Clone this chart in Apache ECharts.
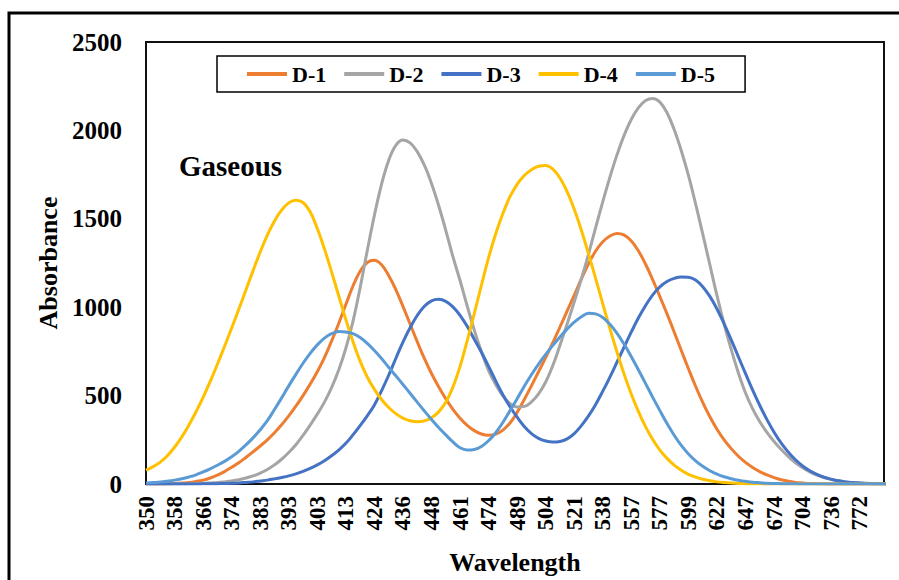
<!DOCTYPE html>
<html>
<head>
<meta charset="utf-8">
<script src="https://cdn.jsdelivr.net/npm/echarts/dist/echarts.min.js"></script>
<style>
  html, body { margin: 0; padding: 0; background: #fff; }
  #chart { width: 899px; height: 580px; }
</style>
</head>
<body>
<div id="chart"></div>
<script>
// Tick labels of the wavelength axis (evenly spaced positions 0..25)
const wavelengthLabels = ['350','358','366','374','383','393','403','413','424','436','448','461','474',
  '489','504','521','538','557','577','599','622','647','674','704','736','772'];

// Sample positions along the axis (in tick-label steps)
const samplePos = [
  0,0.25,0.5,0.75, 1,1.25,1.5,1.75, 2,2.25,2.5,2.75, 3,3.25,3.5,3.75, 4,4.25,4.5,4.75,
  5,5.25,5.5,5.75, 6,6.25,6.5,6.75, 7,7.25,7.5,7.75, 8,8.25,8.5,8.75, 9,9.25,9.5,9.75,
  10,10.25,10.5,10.75, 11,11.25,11.5,11.75, 12,12.25,12.5,12.75, 13,13.25,13.5,13.75,
  14,14.25,14.5,14.75, 15,15.25,15.5,15.75, 16,16.25,16.5,16.75, 17,17.25,17.5,17.75,
  18,18.25,18.5,18.75, 19,19.25,19.5,19.75, 20,20.25,20.5,20.75, 21,21.25,21.5,21.75,
  22,22.25,22.5,22.75, 23,23.25,23.5,23.75, 24,24.25,24.5,24.75, 25,25.25,25.5,25.75, 26];

const seriesNames = ['D-1','D-2','D-3','D-4','D-5'];

const d1 = [
  0,0,1,2, 3,5,8,14, 22,34,50,70, 95,120,150,182, 215,250,290,335,
  385,440,500,565, 635,715,808,908, 1015,1120,1203,1253, 1265,1240,1180,1100, 1005,905,805,710,
  625,550,482,422, 372,332,302,283, 276,282,305,345, 405,478,555,635,
  715,800,888,978, 1068,1160,1245,1318, 1370,1403,1417,1408, 1375,1318,1243,1155,
  1060,962,860,755, 652,553,462,380, 310,250,200,157, 122,93,70,51,
  36,24,15,9, 6,3,2,1, 0,0,0,0, 0,0,0,0, 0];

const d2 = [
  0,0,0,0, 1,1,2,3, 4,6,8,12, 17,24,34,46, 62,82,108,140,
  178,222,275,333, 395,463,545,645, 768,920,1110,1320, 1520,1695,1830,1915, 1945,1929,1880,1803,
  1700,1575,1435,1286, 1151,1007,870,748, 641,562,498,456, 436,439,464,510,
  577,670,785,905, 1030,1160,1300,1450, 1597,1736,1863,1973, 2063,2129,2169,2181,
  2160,2100,2005,1885, 1745,1585,1415,1240, 1065,905,760,628, 515,425,352,292,
  240,195,155,120, 92,69,51,37, 26,18,12,8, 6,4,3,2, 1];

const d3 = [
  0,0,0,0, 0,0,0,0, 1,1,2,3, 4,6,9,12, 17,22,29,37,
  46,57,71,88, 108,132,160,192, 230,278,330,385, 447,527,615,710, 803,884,953,1005,
  1036,1045,1033,1002, 954,892,818,745, 665,583,505,437, 378,325,285,258,
  243,237,240,255, 285,330,385,450, 525,605,690,775, 860,940,1010,1070,
  1115,1145,1163,1171, 1170,1154,1116,1061, 990,906,815,719, 624,531,444,364,
  293,231,180,137, 102,75,54,38, 27,18,12,8, 5,3,2,1, 1];

const d4 = [
  78,98,124,160, 208,265,332,408, 490,580,677,778, 882,988,1097,1207, 1312,1408,1488,1549,
  1590,1605,1592,1540, 1445,1330,1200,1065, 930,805,695,605, 535,478,433,398, 373,358,352,357,
  375,408,462,548, 665,810,965,1125, 1280,1415,1530,1625, 1695,1745,1778,1797,
  1802,1781,1731,1654, 1554,1435,1302,1162, 1019,879,745,620, 508,409,323,252,
  192,145,107,78, 55,39,27,18, 12,8,5,3, 2,1,1,0,
  0,0,0,0, 0,0,0,0, 0,0,0,0, 0,0,0,0, 0];

const d5 = [
  5,8,11,16, 22,30,40,52, 68,86,106,128, 154,185,221,261, 307,358,421,487,
  555,620,683,739, 787,825,850,862, 860,850,828,795, 755,710,660,612, 563,513,463,413,
  365,320,278,238, 205,192,195,212, 245,290,348,415, 482,553,618,678,
  733,784,832,876, 915,946,966,962, 942,903,852,790, 720,645,568,490,
  415,342,276,218, 170,131,100,75, 56,41,30,21, 15,10,7,4,
  3,2,1,1, 0,0,0,0, 0,0,0,0, 0,0,0,0, 0];

const seriesValues = [d1, d2, d3, d4, d5];
const seriesColors = ['#ED7D31','#A5A5A5','#4472C4','#FFC000','#5B9BD5'];

const serif = "'Liberation Serif', 'Times New Roman', serif";

const chart = echarts.init(document.getElementById('chart'), null, { renderer: 'svg' });

chart.setOption({
  backgroundColor: '#fff',
  animation: false,
  title: {
    text: 'Gaseous',
    left: 179,
    top: 151,
    padding: 0,
    textStyle: { fontFamily: serif, fontWeight: 'bold', fontSize: 29, color: '#000' }
  },
  legend: {
    data: seriesNames,
    left: 217,
    top: 56,
    padding: [7, 30],
    itemGap: 18,
    itemWidth: 40,
    itemHeight: 4,
    icon: 'rect',
    borderColor: '#000',
    borderWidth: 1.5,
    textStyle: { fontFamily: serif, fontWeight: 'bold', fontSize: 22, color: '#000' }
  },
  grid: {
    left: 146, right: 15, top: 42, bottom: 89,
    show: true, borderColor: '#111', borderWidth: 2, backgroundColor: 'transparent'
  },
  xAxis: {
    type: 'value',
    min: 0,
    max: 25.85,
    interval: 1,
    name: 'Wavelength',
    nameLocation: 'middle',
    nameGap: 65,
    nameTextStyle: { fontFamily: serif, fontWeight: 'bold', fontSize: 26, color: '#000' },
    axisLine: { show: false },
    axisTick: { show: false },
    splitLine: { show: false },
    axisLabel: {
      rotate: 90,
      margin: 12,
      fontFamily: serif, fontWeight: 'bold', fontSize: 23, color: '#000',
      formatter: function (v) {
        const r = Math.round(v);
        if (Math.abs(v - r) > 1e-6) return '';
        return wavelengthLabels[r] || '';
      }
    }
  },
  yAxis: {
    type: 'value',
    min: 0,
    max: 2500,
    interval: 500,
    name: 'Absorbance',
    nameLocation: 'middle',
    nameRotate: 90,
    nameGap: 68,
    nameTextStyle: { fontFamily: serif, fontWeight: 'bold', fontSize: 26, color: '#000' },
    axisLine: { show: false },
    axisTick: { show: false },
    splitLine: { show: false },
    axisLabel: {
      margin: 24,
      fontFamily: serif, fontWeight: 'bold', fontSize: 25, color: '#000',
      formatter: function (v) { return String(v); }
    }
  },
  series: seriesNames.map(function (name, k) {
    return {
      name: name,
      type: 'line',
      smooth: 0.4,
      symbol: 'none',
      color: seriesColors[k],
      lineStyle: { width: 3, color: seriesColors[k] },
      data: samplePos.map(function (p, i) { return [p, seriesValues[k][i]]; })
    };
  }),
  graphic: [{
    type: 'rect',
    silent: true,
    shape: { x: 9, y: 13, width: 1000, height: 1000 },
    style: { fill: 'none', stroke: '#000', lineWidth: 3 }
  }]
});
</script>
</body>
</html>
